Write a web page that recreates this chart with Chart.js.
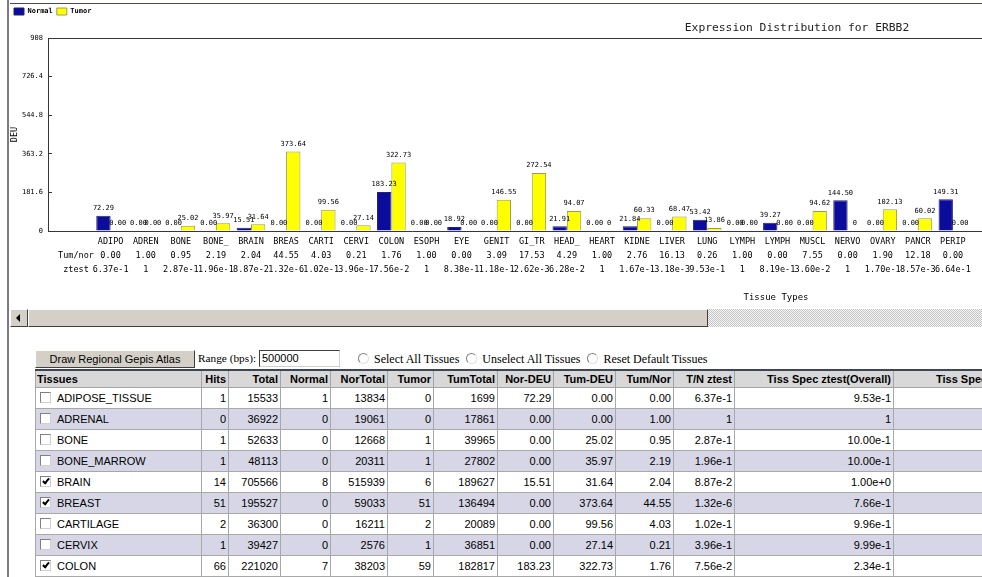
<!DOCTYPE html>
<html>
<head>
<meta charset="utf-8">
<title>Expression Distribution for ERBB2</title>
<script src="https://cdn.jsdelivr.net/npm/chart.js@4.4.1/dist/chart.umd.min.js"></script>
<style>
  body { margin:0; width:982px; height:577px; overflow:hidden; position:relative; background:#fff;
         font-family:"Liberation Sans", Arial, sans-serif; }
  #frame { position:absolute; left:7px; top:0; width:2px; height:577px; background:#7c7c7c; }
  #chartPane { position:absolute; left:10px; top:3px; width:972px; height:305px; overflow:hidden;
               border-top:1px solid #4a4a5a; }
  #chartWrap { position:relative; width:1574px; height:301px; }

  #scroll { position:absolute; left:10px; top:309px; width:972px; height:18px;
            background-color:#e6e6e6;
            background-image:repeating-conic-gradient(#c4c4c4 0 25%, #f6f6f6 0 50%);
            background-size:2px 2px; }
  #scroll .arrow { position:absolute; left:0; top:0; width:18px; height:18px; box-sizing:border-box;
                   background:#d4d0c8; border:1px solid; border-color:#fff #404040 #404040 #fff; }
  #scroll .arrow:after { content:''; position:absolute; left:5px; top:4px; width:0; height:0;
                         border-top:4px solid transparent; border-bottom:4px solid transparent;
                         border-right:4px solid #000; }
  #scroll .thumb { position:absolute; left:18px; top:0; width:680px; height:18px; box-sizing:border-box;
                   background:#d4d0c8; border:1px solid; border-color:#fff #404040 #404040 #fff; }

  #drawBtn { position:absolute; left:35px; top:350px; width:160px; height:18px; box-sizing:border-box;
             background:#d4d0c8; border:1px solid; border-color:#fff #404040 #404040 #fff;
             font-size:11px; line-height:16px; text-align:center; color:#000; }
  #rangeLbl { position:absolute; left:198px; top:352px; font:11.3px "Liberation Serif", "Times New Roman", serif; }
  #rangeBox { position:absolute; left:259px; top:350px; width:81px; height:17px; box-sizing:border-box;
              border:1px solid; border-color:#404040 #d4d0c8 #d4d0c8 #404040; background:#fff;
              font-size:11px; line-height:15px; padding-left:2px; }
  #radios { position:absolute; left:358px; top:352px; font:12px "Liberation Serif", "Times New Roman", serif;
            white-space:nowrap; }
  .rb { display:inline-block; width:9px; height:9px; border:1px solid; border-color:#808080 #e0e0e0 #e0e0e0 #808080;
        border-radius:50%; background:#fff; margin-right:5px; vertical-align:-1px; }
  .gap { display:inline-block; width:7px; }

  #tbl { position:absolute; left:35px; top:369px; border-collapse:collapse; table-layout:fixed; width:1017px;
         font:11px "Liberation Sans", Arial, sans-serif; color:#000; border-top:2px solid #3c4658; }
  #tbl th { height:16px; background:#d8d8d8; font-weight:bold; text-align:right; padding:0 2px;
            border:1px solid #a4a4a4; white-space:nowrap; overflow:hidden; }
  #tbl th:first-child { text-align:left; padding-left:1px; }
  #tbl th:last-child { text-align:left; padding-left:42px; }
  #tbl td { height:20px; border:1px solid #a8a8a8; text-align:right; padding:0 2px; white-space:nowrap;
            overflow:hidden; background:#fff; }
  #tbl td:first-child { text-align:left; padding-left:4px; }
  #tbl tr.alt td { background:#d6d6e6; }
  .cb { display:inline-block; position:relative; width:9px; height:9px; border:1px solid;
        border-color:#808080 #d0d0d0 #d0d0d0 #808080; background:#fff; margin-right:6px; vertical-align:-1px; }
  .cb.on:after { content:''; position:absolute; left:3px; top:0px; width:2px; height:5px;
                 border:solid #000; border-width:0 2px 2px 0; transform:rotate(40deg); }
</style>
</head>
<body>
<div id="frame"></div>
<div id="chartPane"><div id="chartWrap"><canvas id="deuChart"></canvas></div></div>
<div id="scroll"><div class="arrow"></div><div class="thumb"></div></div>

<div id="drawBtn">Draw Regional Gepis Atlas</div>
<div id="rangeLbl">Range (bps):</div>
<div id="rangeBox">500000</div>
<div id="radios"><span class="rb"></span>Select All Tissues<span class="gap"></span><span class="rb"></span>Unselect All Tissues<span class="gap"></span><span class="rb"></span>Reset Default Tissues</div>

<table id="tbl">
  <colgroup>
    <col style="width:166px"><col style="width:27px"><col style="width:52px"><col style="width:50px">
    <col style="width:57px"><col style="width:46px"><col style="width:64px"><col style="width:56px">
    <col style="width:62px"><col style="width:58px"><col style="width:61px"><col style="width:159px">
    <col style="width:159px">
  </colgroup>
  <thead><tr id="headRow"></tr></thead>
  <tbody id="tblBody"></tbody>
</table>

<script>
// donnees du graphique
const categories = ['ADIPO','ADREN','BONE','BONE_','BRAIN','BREAS','CARTI','CERVI','COLON','ESOPH','EYE','GENIT','GI_TR',
                    'HEAD_','HEART','KIDNE','LIVER','LUNG','LYMPH','LYMPH','MUSCL','NERVO','OVARY','PANCR','PERIP'];
const normalDeu = [72.29, 0, 0, 0, 15.51, 0, 0, 0, 183.23, 0, 18.92, 0, 0,
                   21.91, 0, 21.84, 0, 53.42, 0, 39.27, 0, 144.50, 0, 0, 149.31];
// null = pas de valeur tumeur (affiche "0")
const tumorDeu = [0, 0, 25.02, 35.97, 31.64, 373.64, 99.56, 27.14, 322.73, 0, 0, 146.55, 272.54,
                  94.07, null, 60.33, 68.47, 13.86, 0, 0, 94.62, null, 102.13, 60.02, 0];
const tumNor = ['0.00','1.00','0.95','2.19','2.04','44.55','4.03','0.21','1.76','1.00','0.00','3.09','17.53',
                '4.29','1.00','2.76','16.13','0.26','1.00','0.00','7.55','0.00','1.90','12.18','0.00'];
const ztest = ['6.37e-1','1','2.87e-1','1.96e-1','8.87e-2','1.32e-6','1.02e-1','3.96e-1','7.56e-2','1','8.38e-1','1.18e-1','2.62e-3',
               '6.28e-2','1','1.67e-1','3.18e-3','9.53e-1','1','8.19e-1','3.60e-2','1','1.70e-1','8.57e-3','6.64e-1'];
const yTicks = [0, 181.6, 363.2, 544.8, 726.4, 908];

// donnees du tableau
const tableTissues = ['ADIPOSE_TISSUE','ADRENAL','BONE','BONE_MARROW','BRAIN','BREAST','CARTILAGE','CERVIX','COLON'];
const tableChecked = [false, false, false, false, true, true, false, false, true];
const hits = [1, 0, 1, 1, 14, 51, 2, 1, 66];
const totals = [15533, 36922, 52633, 48113, 705566, 195527, 36300, 39427, 221020];
const normalHits = [1, 0, 0, 0, 8, 0, 0, 0, 7];
const norTotals = [13834, 19061, 12668, 20311, 515939, 59033, 16211, 2576, 38203];
const tumorHits = [0, 0, 1, 1, 6, 51, 2, 1, 59];
const tumTotals = [1699, 17861, 39965, 27802, 189627, 136494, 20089, 36851, 182817];
const tissSpec = ['9.53e-1','1','10.00e-1','10.00e-1','1.00e+0','7.66e-1','9.96e-1','9.99e-1','2.34e-1'];
const headers = ['Tissues','Hits','Total','Normal','NorTotal','Tumor','TumTotal','Nor-DEU','Tum-DEU','Tum/Nor','T/N ztest',
                 'Tiss Spec ztest(Overall)','Tiss Spec'];

const axisColor = '#33334a';
const X_MIN = -0.986;              // le graphe d'origine est plus large (panneau defilant)
const X_MAX = X_MIN + 1456 / 36.5;

Chart.defaults.font.family = '"DejaVu Sans Mono", monospace';
Chart.defaults.color = '#000';

// etiquettes de valeur au-dessus des barres
const valueLabels = {
  id: 'valueLabels',
  afterDatasetsDraw(chart) {
    const ctx = chart.ctx;
    const yScale = chart.scales.y;
    ctx.save();
    ctx.font = '7px "DejaVu Sans Mono", monospace';
    ctx.fillStyle = '#000';
    ctx.textAlign = 'center';
    ctx.textBaseline = 'bottom';
    chart.data.datasets.forEach((ds, di) => {
      chart.getDatasetMeta(di).data.forEach((bar, i) => {
        const v = ds.data[i].y;
        const txt = v === null ? '0' : v.toFixed(2);
        ctx.fillText(txt, bar.x, yScale.getPixelForValue(v === null ? 0 : v) - 4);
      });
    });
    ctx.restore();
  }
};

// bord superieur de la zone de trace
const plotFrame = {
  id: 'plotFrame',
  afterDraw(chart) {
    const {ctx, chartArea} = chart;
    ctx.save();
    ctx.strokeStyle = axisColor;
    ctx.lineWidth = 1;
    ctx.beginPath();
    ctx.moveTo(chartArea.left, Math.round(chartArea.top) + 0.5);
    ctx.lineTo(chartArea.right, Math.round(chartArea.top) + 0.5);
    ctx.stroke();
    ctx.restore();
  }
};

const ctx = document.getElementById('deuChart').getContext('2d');
const deuChart = new Chart(ctx, {
  type: 'bar',
  data: {
    datasets: [{
      label: 'Normal',
      data: normalDeu.map((v, i) => ({x: i, y: v})),
      backgroundColor: '#0b0b9c',
      borderColor: '#24246c',
      borderWidth: 1
    }, {
      label: 'Tumor',
      data: tumorDeu.map((v, i) => ({x: i, y: v})),
      backgroundColor: '#ffff00',
      borderColor: '#9c9c50',
      borderWidth: 1
    }]
  },
  options: {
    responsive: true,
    maintainAspectRatio: false,
    animation: false,
    categoryPercentage: 0.83,
    barPercentage: 1.0,
    layout: { padding: 0 },
    plugins: {
      legend: {
        position: 'top',
        align: 'start',
        weight: 3000,
        labels: { boxWidth: 10, boxHeight: 7, padding: 4, font: { size: 7, weight: 'bold' } }
      },
      title: {
        display: true,
        text: 'Expression Distribution for ERBB2',
        font: { size: 11.3, weight: 'normal', lineHeight: 1 },
        color: '#222',
        padding: { top: -2.5, bottom: 4.2 }
      },
      tooltip: { enabled: false }
    },
    scales: {
      x: {
        type: 'linear',
        min: X_MIN,
        max: X_MAX,
        afterBuildTicks: (scale) => {
          scale.ticks = [{value: X_MIN}].concat(categories.map((c, i) => ({value: i})));
        },
        afterFit: (scale) => { scale.height = 74; },
        grid: { display: false, drawTicks: false },
        border: { display: true, color: axisColor },
        ticks: {
          autoSkip: false,
          maxRotation: 0,
          padding: 4,
          font: { size: 8.5, lineHeight: '14px' },
          callback: (value) => {
            if (value === X_MIN) return ['', 'Tum/nor', 'ztest'];
            if (value >= 0 && value < categories.length) return [categories[value], tumNor[value], ztest[value]];
            return '';
          }
        },
        title: { display: true, text: 'Tissue Types', font: { size: 9 }, padding: { top: 0, bottom: 2 } }
      },
      y: {
        min: 0,
        max: 908,
        afterBuildTicks: (scale) => { scale.ticks = yTicks.map(v => ({value: v})); },
        afterFit: (scale) => { scale.width = 38; },
        grid: { drawOnChartArea: false, tickLength: -4, color: axisColor },
        border: { display: true, color: axisColor },
        ticks: { padding: 9, font: { size: 7 }, callback: (v) => String(v) },
        title: { display: true, text: 'DEU', font: { size: 8.5 }, padding: { top: 0, bottom: 0 } }
      },
      // marge droite du graphe d'origine (invisible)
      yRight: {
        position: 'right',
        min: 0,
        max: 908,
        afterFit: (scale) => { scale.width = 80; },
        grid: { display: false, drawTicks: false },
        border: { display: false },
        ticks: { display: false }
      }
    }
  },
  plugins: [valueLabels, plotFrame]
});

// construction du tableau
const headRow = document.getElementById('headRow');
headers.forEach(h => {
  const th = document.createElement('th');
  th.textContent = h;
  headRow.appendChild(th);
});
const tblBody = document.getElementById('tblBody');
tableTissues.forEach((name, i) => {
  const tr = document.createElement('tr');
  if (i % 2 === 1) tr.className = 'alt';
  const cells = [hits[i], totals[i], normalHits[i], norTotals[i], tumorHits[i], tumTotals[i],
                 normalDeu[i].toFixed(2), tumorDeu[i].toFixed(2), tumNor[i], ztest[i], tissSpec[i], ''];
  const first = document.createElement('td');
  first.innerHTML = '<span class="cb' + (tableChecked[i] ? ' on' : '') + '"></span>';
  first.appendChild(document.createTextNode(name));
  tr.appendChild(first);
  cells.forEach(c => {
    const td = document.createElement('td');
    td.textContent = c;
    tr.appendChild(td);
  });
  tblBody.appendChild(tr);
});
</script>
</body>
</html>
